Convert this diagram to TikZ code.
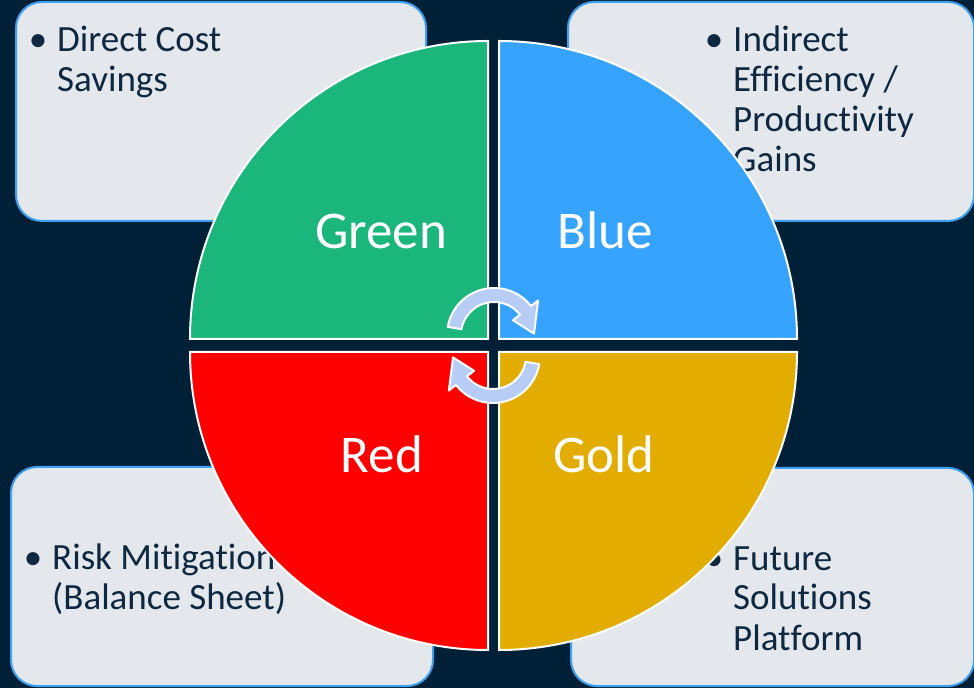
\documentclass[tikz,border=0pt]{standalone}
\usepackage{fontspec}
\setmainfont{Carlito}[Ligatures=NoCommon]
\usepackage{color}
\definecolor{bgnavy}{RGB}{0,32,56}
\definecolor{boxgray}{RGB}{228,231,235}
\definecolor{boxline}{RGB}{61,160,240}
\definecolor{inktext}{RGB}{14,40,65}
\definecolor{quadgreen}{RGB}{26,182,123}
\definecolor{quadblue}{RGB}{54,163,255}
\definecolor{quadred}{RGB}{255,0,0}
\definecolor{quadgold}{RGB}{226,172,0}
\definecolor{arrowblue}{RGB}{183,205,245}
\usepackage{tikz}
\usetikzlibrary{calc,positioning}

\begin{document}
\begin{tikzpicture}[
  x=1pt,
  y=1pt,
  panel/.style={
    draw=boxline,
    fill=boxgray,
    line width=2pt,
    rounded corners=26pt,
    inner sep=0pt,
    anchor=south west
    },
  bullettext/.style={
    text=inktext,
    align=left,
    anchor=base west,
    inner sep=0pt,
    font=\fontsize{37}{40}\selectfont
    },
  quadlabel/.style={
    text=white,
    anchor=base,
    inner sep=0pt,
    font=\fontsize{53}{60}\selectfont
    },
  slice/.style={draw=white, line width=2pt},
  cyclearrow/.style={fill=arrowblue, draw=white, line width=2pt, line join=round}
]
\useasboundingbox (0,0) rectangle (974,688);
\fill[bgnavy] (0,0) rectangle (974,688);

\node [panel, minimum width=410, minimum height=219] (costbox) at (15,466) {};
\node [panel, minimum width=406, minimum height=219] (gainbox) at (567,466) {};
\node [panel, minimum width=422, minimum height=219] (riskbox) at (10,1) {};
\node [panel, minimum width=403, minimum height=218] (futurebox) at (570,1) {};

\node [bullettext] (costtext) at (57,596) {\llap{•\hspace{10pt}}Direct Cost\\Savings};
\node [bullettext] (gaintext) at (733,516) {\llap{•\hspace{10pt}}Indirect\\Efficiency /\\Productivity\\Gains};
\node [bullettext] (risktext) at (52,78) {\llap{•\hspace{10pt}}Risk Mitigation\\(Balance Sheet)};
\node [bullettext] (futuretext) at (733,38) {\llap{•\hspace{10pt}}Future\\Solutions\\Platform};

\filldraw [slice, fill=quadgreen] (488,349) -- ++(-298,0) arc[start angle=180, end angle=90, radius=298] -- cycle;
\filldraw [slice, fill=quadblue] (499,349) -- ++(0,298) arc[start angle=90, end angle=0, radius=298] -- cycle;
\filldraw [slice, fill=quadred] (488,336) -- ++(0,-298) arc[start angle=270, end angle=180, radius=298] -- cycle;
\filldraw [slice, fill=quadgold] (499,336) -- ++(298,0) arc[start angle=0, end angle=-90, radius=298] -- cycle;

\node [quadlabel] (green) at (381,439) {Green};
\node [quadlabel] (blue) at (605,439) {Blue};
\node [quadlabel] (red) at (382,215) {Red};
\node [quadlabel] (gold) at (604,215) {Gold};

\filldraw [cyclearrow, shift={(494,353)}] (170:47) arc[start angle=170, end angle=38, radius=47]
  -- (38:56) -- (2:40) -- (38:24) -- (38:33) arc[start angle=38, end angle=170, radius=33] -- cycle;
\filldraw [cyclearrow, shift={(493,332)}, rotate=180] (170:47) arc[start angle=170, end angle=38, radius=47]
  -- (38:56) -- (2:40) -- (38:24) -- (38:33) arc[start angle=38, end angle=170, radius=33] -- cycle;

\end{tikzpicture}
\end{document}
